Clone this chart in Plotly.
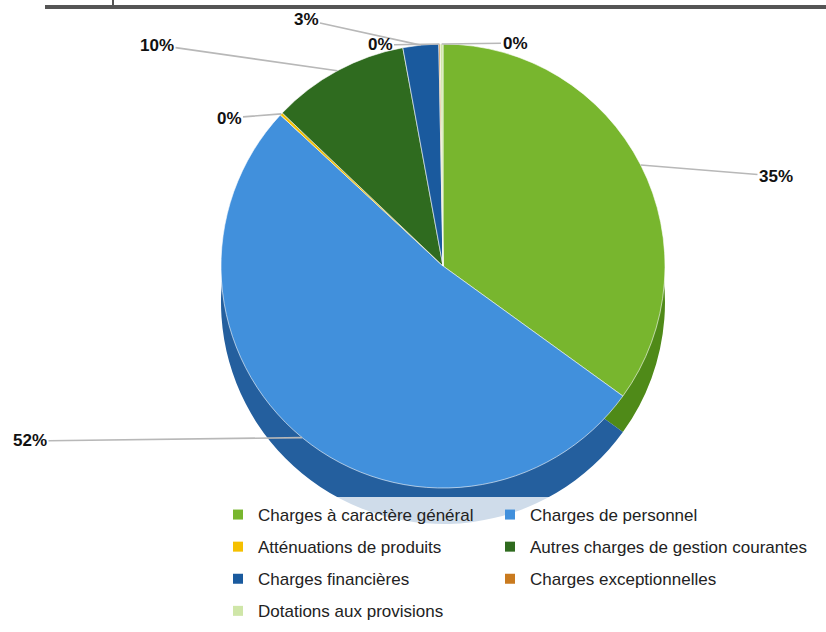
import math
import plotly.graph_objects as go

categories = [
    "Charges à caractère général",
    "Charges de personnel",
    "Atténuations de produits",
    "Autres charges de gestion courantes",
    "Charges financières",
    "Charges exceptionnelles",
    "Dotations aux provisions",
]
values = [35.0, 52.0, 0.2, 10.0, 2.6, 0.1, 0.2]
colors_top = ["#78b62e", "#4190dc", "#f5c000", "#2f6b1f", "#1a5a9e", "#c97a1e", "#cfe6a8"]
colors_side = ["#4f8a18", "#245f9e", "#b88f00", "#1d4a12", "#0f3d70", "#8f5510", "#9bbd70"]

# ---- layout constants (pixels) ----
W, H = 826, 632
CX, CY, R = 443, 266, 222          # pie centre / radius in px
DEPTH = 36                          # fake 3D rim depth
# where each percentage label sits (px, top-left origin), in category order
label_pos = [(776, 176), (30, 441), (229, 118), (157, 45), (306, 20), (380, 45), (515, 43)]

def px_dom(x0, x1, y0, y1):
    return dict(x=[x0 / W, x1 / W], y=[1 - y1 / H, 1 - y0 / H])

fig = go.Figure()

fig.add_trace(go.Pie(
    labels=categories, values=values, sort=False, direction="clockwise", rotation=0,
    marker=dict(colors=colors_side, line=dict(width=0)),
    textinfo="none", hoverinfo="skip", showlegend=False,
    domain=px_dom(CX - R, CX + R, CY - R + DEPTH, CY + R + DEPTH),
))
fig.add_trace(go.Pie(
    labels=categories, values=values, sort=False, direction="clockwise", rotation=0,
    marker=dict(colors=colors_top, line=dict(width=0.6, color="#ffffff")),
    textinfo="none", showlegend=False,
    domain=px_dom(CX - R, CX + R, CY - R, CY + R),
))

# legend via dummy entries, split into two columns
for i, (name, col) in enumerate(zip(categories, colors_top)):
    fig.add_trace(go.Scatter(
        x=[None], y=[None], mode="markers", name=name,
        marker=dict(symbol="square", size=10, color=col),
        legend="legend" if i % 2 == 0 else "legend2",
        legendgroup=name, showlegend=True,
    ))

# percentage labels with leader lines pointing to each slice
total = sum(values)
annotations = []
cum = 0.0
for v, (lx, ly) in zip(values, label_pos):
    theta = 2 * math.pi * (cum + v / 2) / total
    cum += v
    axp = CX + R * math.sin(theta)
    ayp = CY - R * math.cos(theta)
    annotations.append(dict(
        x=axp / W, y=1 - ayp / H, xref="paper", yref="paper",
        text="<b>%d%%</b>" % round(v / total * 100),
        showarrow=True, arrowhead=0, arrowwidth=1.6, arrowcolor="#b8b8b8",
        ax=lx - axp, ay=ly - ayp, axref="pixel", ayref="pixel",
        font=dict(family="Liberation Sans Narrow, Liberation Sans, Arial", size=17, color="#111111"),
    ))

legend_common = dict(
    orientation="v", yanchor="top", xanchor="left",
    font=dict(family="Liberation Sans, Arial", size=17, color="#222222"),
    bgcolor="rgba(255,255,255,0)", itemwidth=30, tracegroupgap=7,
)

fig.update_layout(
    width=W, height=H,
    margin=dict(l=0, r=0, t=0, b=0, autoexpand=False),
    paper_bgcolor="white", plot_bgcolor="rgba(0,0,0,0)",
    xaxis=dict(visible=False), yaxis=dict(visible=False),
    legend=dict(x=218 / W, y=1 - 497 / H, **legend_common),
    legend2=dict(x=490 / W, y=1 - 497 / H, **legend_common),
    annotations=annotations,
    shapes=[
        dict(type="line", xref="paper", yref="paper", x0=45 / W, x1=1, y0=1 - 7 / H, y1=1 - 7 / H,
             line=dict(color="#555555", width=4)),
        dict(type="line", xref="paper", yref="paper", x0=113 / W, x1=113 / W, y0=1, y1=1 - 8 / H,
             line=dict(color="#555555", width=2)),
        # translucent band behind the legend, over the bottom of the pie
        dict(type="rect", xref="paper", yref="paper", x0=222 / W, x1=720 / W,
             y0=1 - 540 / H, y1=1 - 497 / H, layer="above",
             fillcolor="rgba(255,255,255,0.78)", line=dict(width=0)),
    ],
)

fig.write_html("out.html", config={"displayModeBar": False},
               post_script="document.body.style.margin='0';")
